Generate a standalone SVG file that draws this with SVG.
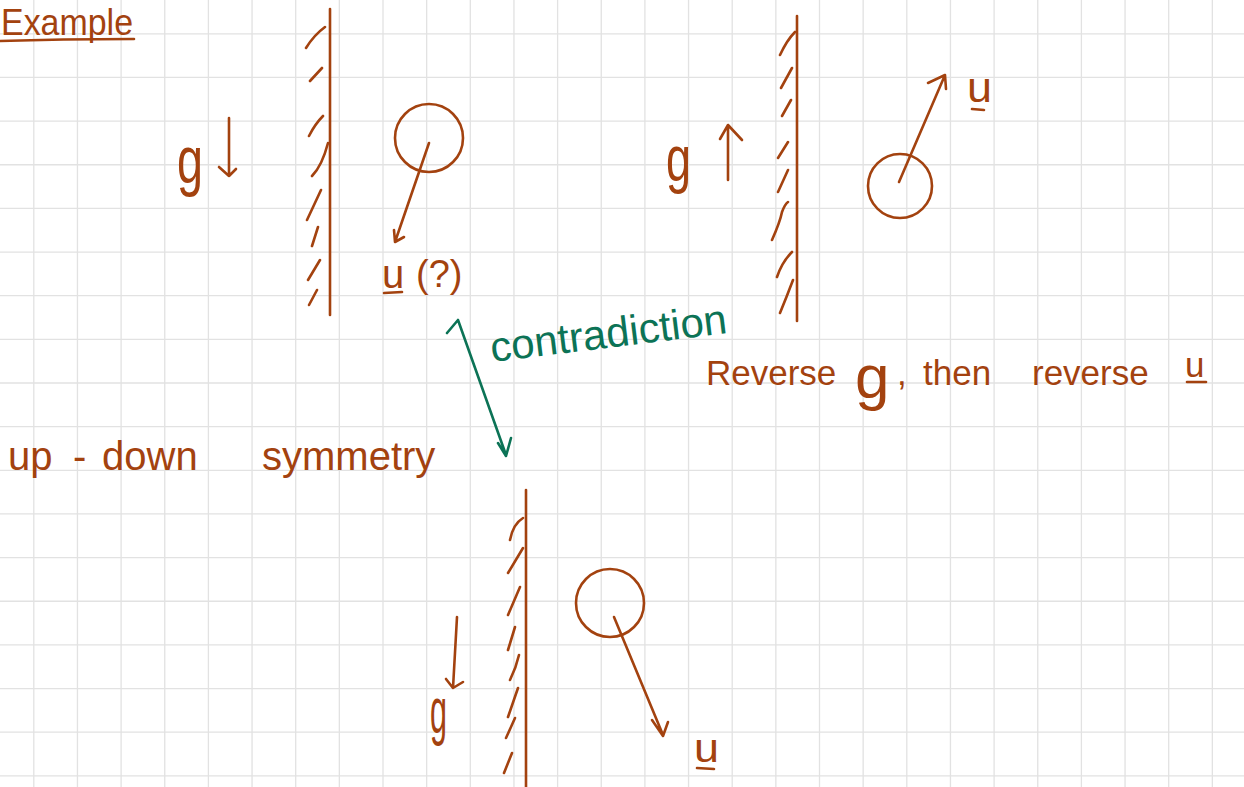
<svg xmlns="http://www.w3.org/2000/svg" width="1244" height="787" viewBox="0 0 1244 787">
<style>
.grid{stroke:#e2e2e2;stroke-width:1.3;fill:none}
.ink{stroke:#A3420F;stroke-width:2.6;fill:none;stroke-linecap:round;stroke-linejoin:round}
.green{stroke:#0C7356;stroke-width:2.6;fill:none;stroke-linecap:round;stroke-linejoin:round}
.hw{font-family:"Liberation Sans","DejaVu Sans",sans-serif;fill:#A3420F}
.hwg{font-family:"Liberation Sans","DejaVu Sans",sans-serif;fill:#0C7356}
</style>
<rect width="1244" height="787" fill="#ffffff"/>
<path class="grid" d="M33.8 0V787M77.45 0V787M121.1 0V787M164.75 0V787M208.4 0V787M252.05 0V787M295.7 0V787M339.35 0V787M383 0V787M426.65 0V787M470.3 0V787M513.95 0V787M557.6 0V787M601.25 0V787M644.9 0V787M688.55 0V787M732.2 0V787M775.85 0V787M819.5 0V787M863.15 0V787M906.8 0V787M950.45 0V787M994.1 0V787M1037.75 0V787M1081.4 0V787M1125.05 0V787M1168.7 0V787M1212.35 0V787M0 33.8H1244M0 77.45H1244M0 121.1H1244M0 164.75H1244M0 208.4H1244M0 252.05H1244M0 295.7H1244M0 339.35H1244M0 383H1244M0 426.65H1244M0 470.3H1244M0 513.95H1244M0 557.6H1244M0 601.25H1244M0 644.9H1244M0 688.55H1244M0 732.2H1244M0 775.85H1244"/>

<g id="title">
<text class="hw" x="1" y="35" font-size="37" textLength="132" lengthAdjust="spacingAndGlyphs">Example</text>
<path class="ink" d="M0 41 Q60 39 134 39" stroke-width="3"/>
</g>

<g id="panel1">
<path class="ink" d="M330 9V315"/>
<path class="ink" d="M306 48Q314 35 325 27M310 81L322 68M309 136Q315 124 323 116M312 176Q322 166 328 143M307 220L321 190M312 246L318 227M308 280L320 260M309 305L317 290"/>
<circle class="ink" cx="429" cy="138" r="34"/>
<text class="hw" x="177" y="183" font-size="66" textLength="26" lengthAdjust="spacingAndGlyphs">g</text>
<text class="hw" font-size="40"><tspan x="382" y="288">u</tspan> <tspan x="416" y="287" font-size="38">(?)</tspan></text>
<path class="ink" d="M384 293L402 292"/>
</g>

<g id="panel2">
<path class="ink" d="M797 16V321"/>
<path class="ink" d="M780 55Q787 40 795 32M781 88L792 68M782 116L791 100M778 158L788 142M778 192L788 170M772 240Q780 222 782 212Q785 204 788 202M777 277Q782 262 792 252M780 313Q787 296 793 280"/>
<circle class="ink" cx="900" cy="186" r="32"/>
<text class="hw" x="666" y="181" font-size="64" textLength="25" lengthAdjust="spacingAndGlyphs">g</text>
<text class="hw" x="967" y="102" font-size="42" textLength="25" lengthAdjust="spacingAndGlyphs">u</text>
<path class="ink" d="M972 109L984 110"/>
</g>

<g id="panel3">
<path class="ink" d="M526 490V787"/>
<path class="ink" d="M510 540Q513 524 523 518M508 573L523 548M508 615L520 587M508 650L515 627M510 680Q516 668 519 655M508 717L518 688M506 738L515 718M504 773L512 753"/>
<circle class="ink" cx="610" cy="603" r="34"/>
<text class="hw" x="430" y="733" font-size="64" textLength="17" lengthAdjust="spacingAndGlyphs">g</text>
<text class="hw" x="694" y="762" font-size="40" textLength="25" lengthAdjust="spacingAndGlyphs">u</text>
<path class="ink" d="M697 768L714 769"/>
</g>

<g id="notes">
<text class="hwg" x="492" y="362" font-size="42" textLength="238" lengthAdjust="spacingAndGlyphs" transform="rotate(-7 492 362)">contradiction</text>
<text class="hw" y="385" font-size="35"><tspan x="706">Reverse</tspan> <tspan x="855" y="398" font-size="62">g</tspan><tspan x="897" y="385">,</tspan> <tspan x="923">then</tspan> <tspan x="1032">reverse</tspan> <tspan x="1185" y="377">u</tspan></text>
<path class="ink" d="M1187 382L1206 382"/>
<text class="hw" y="470" font-size="40"><tspan x="8">up</tspan> <tspan x="73">-</tspan> <tspan x="102">down</tspan> <tspan x="262">symmetry</tspan></text>
</g>

<g id="connectors">
<path class="ink" d="M429 143L395 242M394 230L395 242L404 237"/>
<path class="ink" d="M229 118L229 176M219 167L229 176L236 169"/>
<path class="ink" d="M899 182L945 75M928 83L945 75L946 89"/>
<path class="ink" d="M728 180L728 125M720 139L728 125L742 140"/>
<path class="ink" d="M614 617L663 735M652 720L663 736L668 722"/>
<path class="ink" d="M457 617L453 688M446 679L453 688L463 682"/>
<path class="green" d="M447 333L458 320L506 455M498 443L506 456L511 438"/>
</g>
</svg>
